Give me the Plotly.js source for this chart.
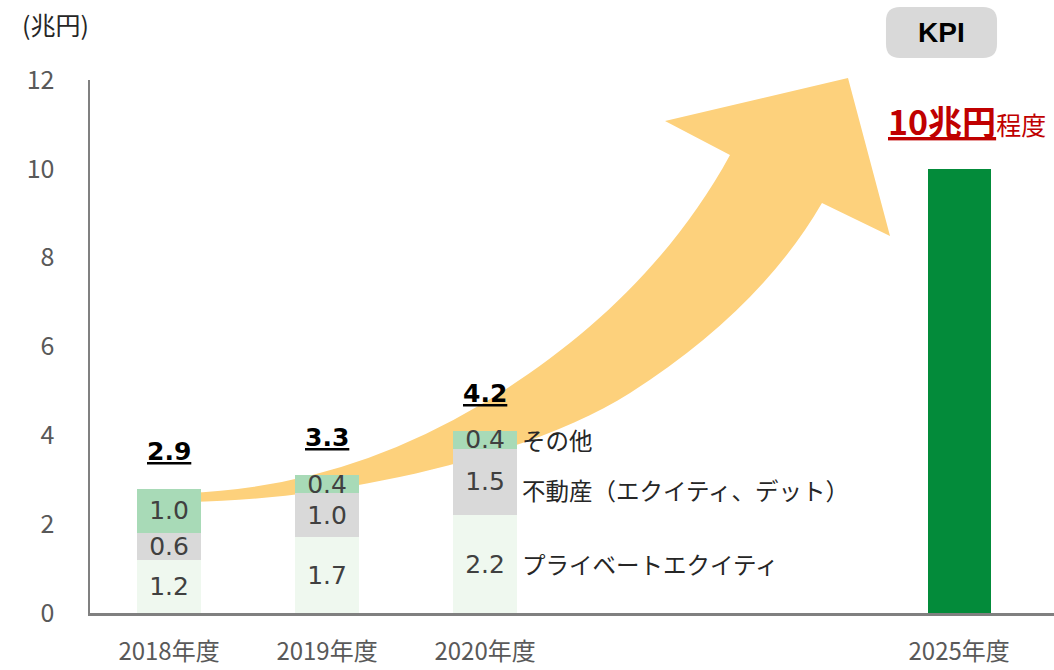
<!DOCTYPE html>
<html>
<head>
<meta charset="utf-8">
<script src="https://cdn.plot.ly/plotly-3.0.1.min.js"></script>
<style>html,body{margin:0;padding:0;background:#fff;} #chart{width:1054px;height:670px;}</style>
</head>
<body>
<div id="chart"></div>
<script>
// ---- data ----
const years = ['2018年度', '2019年度', '2020年度'];
const privateEquity = [1.2, 1.7, 2.2];
const realEstate = [0.6, 1.0, 1.5];
const other = [1.0, 0.4, 0.4];
const totals = ['2.9', '3.3', '4.2'];
const kpiYear = '2025年度';
const kpiValue = [10];
const seriesNames = ['プライベートエクイティ', '不動産（エクイティ、デット）', 'その他'];
const yTicks = [0, 2, 4, 6, 8, 10, 12];
const unitLabel = '(兆円)';
const kpiLabel = 'KPI';
const kpiTarget = '10兆円';
const kpiSuffix = '程度';

// ---- layout constants ----
const W = 1054, H = 670, ML = 90, MR = 0, MT = 80, MB = 57;
const PW = W - ML - MR, PH = H - MT - MB;
const xYears = [0, 1, 2];
const xKpi = [5];
function P(x, y) { return ((x - ML) / PW).toFixed(4) + ',' + ((H - MB - y) / PH).toFixed(4); }
function px(x) { return (x - ML) / PW; }
function py(y) { return (H - MB - y) / PH; }

const JP = '"Noto Sans CJK JP", "Noto Sans", sans-serif';
const NUM = '"DejaVu Sans", Verdana, sans-serif';

const barCommon = {
  type: 'bar', width: 0.4, textposition: 'inside', insidetextanchor: 'middle',
  constraintext: 'none', textangle: 0, cliponaxis: false,
  texttemplate: '%{y:.1f}', hoverinfo: 'skip',
  textfont: {family: NUM, size: 25, color: '#404040'},
  marker: {line: {width: 0}}
};

const traces = [
  Object.assign({}, barCommon, {x: xYears, y: privateEquity, name: seriesNames[0], marker: {color: '#eff8ef'}}),
  Object.assign({}, barCommon, {x: xYears, y: realEstate, name: seriesNames[1], marker: {color: '#d9d9d9'}}),
  Object.assign({}, barCommon, {x: xYears, y: other, name: seriesNames[2], marker: {color: '#a8dab7'}}),
  {type: 'bar', x: xKpi, y: kpiValue, width: 0.4, name: kpiYear, marker: {color: '#038b3a'}, hoverinfo: 'skip'}
];

const stackTop = privateEquity.map((v, i) => v + realEstate[i] + other[i]);

const annotations = [];
totals.forEach((t, i) => {
  annotations.push({x: xYears[i], y: stackTop[i], xref: 'x', yref: 'y', yanchor: 'bottom', yshift: 21,
    text: '<b><u>' + t + '</u></b>', showarrow: false, font: {family: NUM, size: 25, color: '#000'}});
});
const last = 2;
const segMid = [privateEquity[last] / 2, privateEquity[last] + realEstate[last] / 2, privateEquity[last] + realEstate[last] + other[last] / 2];
const segShift = [0, -8, 0];
seriesNames.forEach((n, k) => {
  annotations.push({x: xYears[last] + 0.2, y: segMid[k], xref: 'x', yref: 'y', xanchor: 'left', yanchor: 'middle',
    xshift: 3, yshift: segShift[k], text: n, showarrow: false, font: {family: JP, size: 23.5, color: '#262626'}});
});
annotations.push({x: px(55), y: py(24), xref: 'paper', yref: 'paper', xanchor: 'center', yanchor: 'middle',
  text: unitLabel, showarrow: false, font: {family: JP, size: 25, color: '#262626'}});
annotations.push({x: px(941.5), y: py(33), xref: 'paper', yref: 'paper', xanchor: 'center', yanchor: 'middle',
  text: '<b>' + kpiLabel + '</b>', showarrow: false, font: {family: '"Liberation Sans", Arial, sans-serif', size: 28, color: '#000'}});
annotations.push({x: px(886), y: py(121), xref: 'paper', yref: 'paper', xanchor: 'left', yanchor: 'middle',
  text: '<b><u>' + kpiTarget + '</u></b><span style="font-size:25px">' + kpiSuffix + '</span>', showarrow: false,
  font: {family: JP, size: 34, color: '#c00000'}});

// decorative arrow (pixel geometry converted to paper)
const arrowPath =
  'M' + P(185, 493) +
  ' Q' + P(340, 488) + ' ' + P(480, 405) +
  ' C' + P(578, 347) + ' ' + P(670, 265) + ' ' + P(730, 155) +
  ' L' + P(665, 121) + ' L' + P(848, 78) + ' L' + P(890, 236) + ' L' + P(822, 203) +
  ' Q' + P(760, 310) + ' ' + P(630, 393) +
  ' C' + P(526, 459) + ' ' + P(330, 500) + ' ' + P(190, 502) + ' Z';

const bx0 = 886, bx1 = 997, by0 = 7, by1 = 58, r = 14;
const boxPath = 'M' + P(bx0 + r, by0) + ' L' + P(bx1 - r, by0) + ' Q' + P(bx1, by0) + ' ' + P(bx1, by0 + r) +
  ' L' + P(bx1, by1 - r) + ' Q' + P(bx1, by1) + ' ' + P(bx1 - r, by1) +
  ' L' + P(bx0 + r, by1) + ' Q' + P(bx0, by1) + ' ' + P(bx0, by1 - r) +
  ' L' + P(bx0, by0 + r) + ' Q' + P(bx0, by0) + ' ' + P(bx0 + r, by0) + ' Z';

const shapes = [
  {type: 'path', xref: 'paper', yref: 'paper', path: arrowPath, fillcolor: '#fdd17c', line: {width: 0}, layer: 'below'},
  {type: 'path', xref: 'paper', yref: 'paper', path: boxPath, fillcolor: '#d9d9d9', line: {width: 0}, layer: 'above'}
];

const layout = {
  width: W, height: H,
  margin: {l: ML, r: MR, t: MT, b: MB, pad: 0},
  paper_bgcolor: '#ffffff', plot_bgcolor: '#ffffff',
  barmode: 'stack', showlegend: false, hovermode: false,
  xaxis: {
    type: 'linear', range: [-0.5, 5.6], tickvals: xYears.concat(xKpi), ticktext: years.concat([kpiYear]),
    showgrid: false, zeroline: false, showline: true, linecolor: '#808080', linewidth: 2.5,
    ticks: '', ticklabelstandoff: 16, tickfont: {family: JP, size: 24, color: '#595959'}, fixedrange: true
  },
  yaxis: {
    range: [0, 12], tickvals: yTicks, showgrid: false, zeroline: false, showline: true,
    linecolor: '#808080', linewidth: 2.5, ticks: '', ticklabelstandoff: 28,
    tickfont: {family: JP, size: 25, color: '#595959'}, fixedrange: true
  },
  annotations: annotations,
  shapes: shapes
};

Plotly.newPlot('chart', traces, layout, {staticPlot: true, displayModeBar: false});
</script>
</body>
</html>
